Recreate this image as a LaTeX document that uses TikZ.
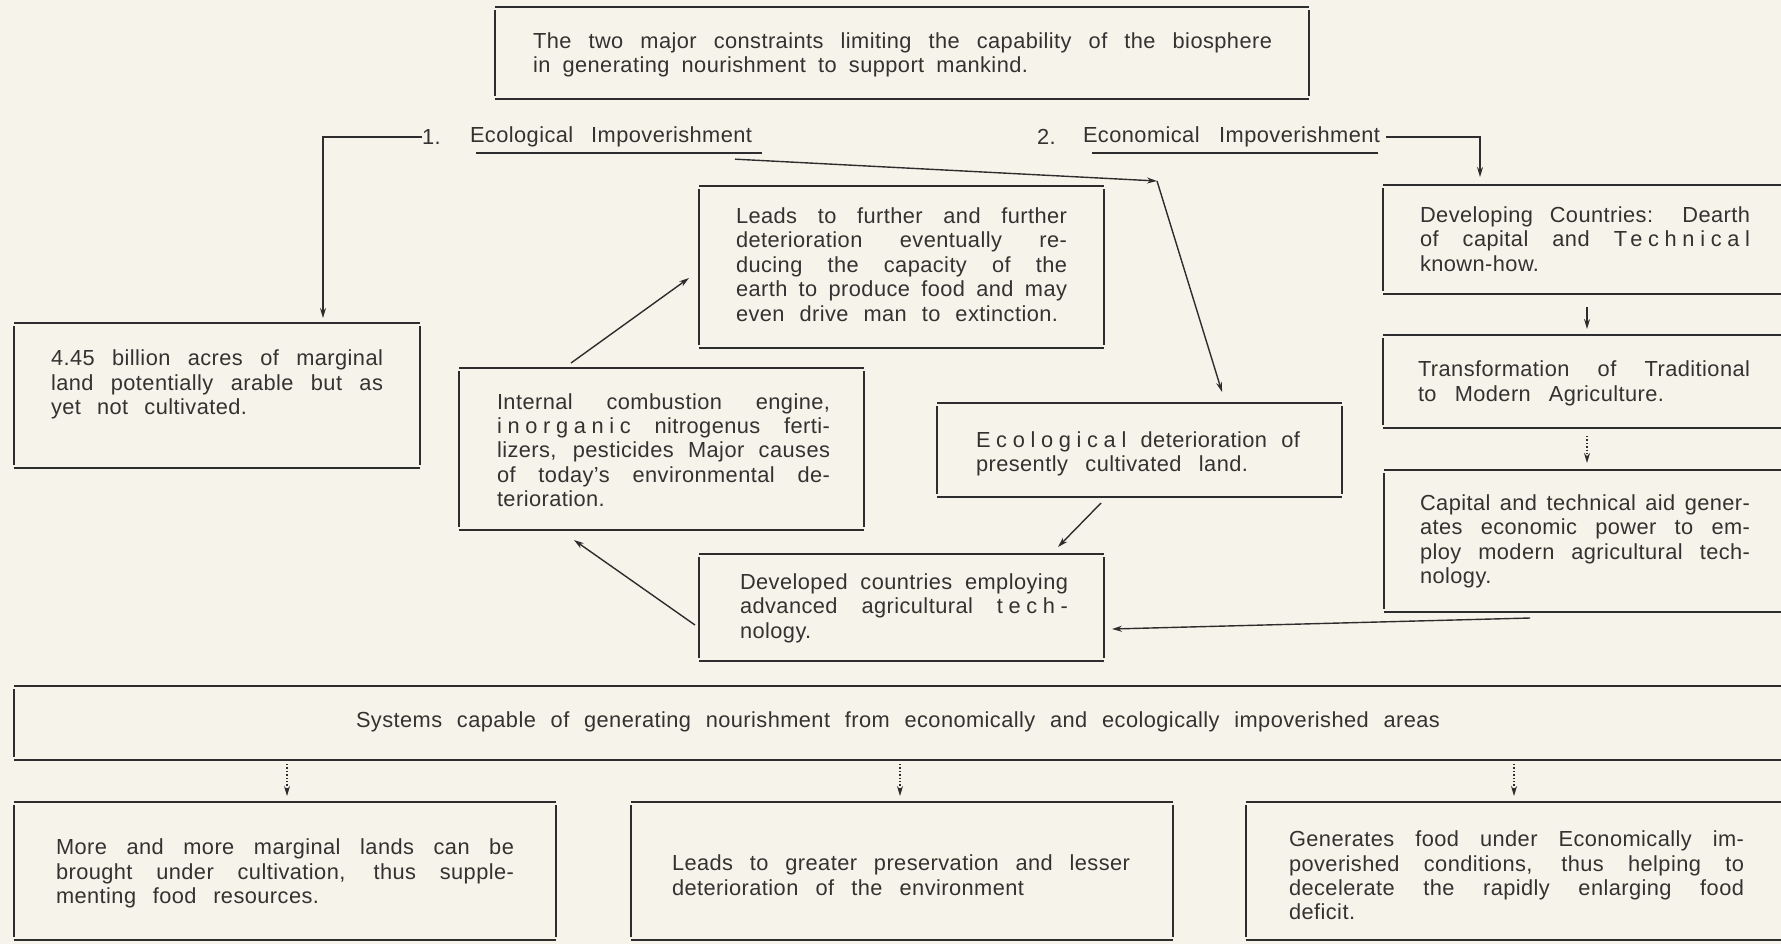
\documentclass[tikz,border=0pt]{standalone}
\usepackage{fontspec}
\setmainfont[LetterSpace=2]{Liberation Sans}
\usetikzlibrary{arrows.meta,calc,fit}
\definecolor{paper}{RGB}{246,243,234}
\definecolor{ink}{RGB}{52,50,48}
\definecolor{rulec}{RGB}{45,45,45}
\newcommand\spc[1]{{\addfontfeature{LetterSpace=26}#1}}
\newcommand\jl[2]{\makebox[#1pt][s]{#2}}
\newcommand\boxit[1]{%
  \draw[hl] (#1.north west) -- (#1.north east);
  \draw[hl] (#1.south west) -- (#1.south east);
  \draw[vl] (#1.north west) -- (#1.south west);
  \draw[vl] (#1.north east) -- (#1.south east);}
\newcommand\boxopen[1]{%
  \draw[hl] (#1.north west) -- (#1.north east);
  \draw[hl] (#1.south west) -- (#1.south east);
  \draw[vl] (#1.north west) -- (#1.south west);}
\begin{document}
\begin{tikzpicture}[x=0.5pt,y=-0.5pt,
  frame/.style={inner sep=0pt, outer sep=0pt},
  txt/.style={inner sep=0pt, outer sep=0pt, anchor=west, align=left, text=ink,
    font=\fontsize{10.9}{12.2}\selectfont},
  hl/.style={draw=rulec, line width=1.1pt},
  vl/.style={draw=rulec, line width=0.7pt, shorten <=1.5pt, shorten >=1.5pt},
  uline/.style={draw=rulec, line width=0.7pt},
  conn/.style={draw=rulec, line width=0.7pt, -{Stealth[length=5pt,width=3pt]}},
  dconn/.style={conn, densely dotted},
]
\useasboundingbox (0,0) rectangle (1781,944);
\fill[paper] (0,0) rectangle (1781,944);

% frames
\node[frame, fit={(495,7) (1309,99)}] (top) {};
\node[frame, fit={(699,186) (1104,348)}] (leads) {};
\node[frame, fit={(14,323) (420,468)}] (land) {};
\node[frame, fit={(459,368) (864,530)}] (ice) {};
\node[frame, fit={(937,403) (1342,497)}] (ecodet) {};
\node[frame, fit={(699,554) (1104,661)}] (devd) {};
\node[frame, fit={(1383,185) (1790,294)}] (devg) {};
\node[frame, fit={(1383,335) (1790,428)}] (trans) {};
\node[frame, fit={(1384,470) (1790,612)}] (cap) {};
\node[frame, fit={(14,686) (1790,760)}] (sys) {};
\node[frame, fit={(14,802) (556,940)}] (b1) {};
\node[frame, fit={(631,802) (1173,940)}] (b2) {};
\node[frame, fit={(1246,802) (1790,940)}] (b3) {};

\boxit{top}\boxit{leads}\boxit{land}\boxit{ice}\boxit{ecodet}\boxit{devd}
\boxopen{devg}\boxopen{trans}\boxopen{cap}\boxopen{sys}
\boxit{b1}\boxit{b2}\boxopen{b3}

% texts
\node[txt] (ttop) at (533,55) {\jl{369.5}{The two major constraints limiting the capability of the biosphere}\\
  \jl{247.5}{in generating nourishment to support mankind.}};
\node[txt] (n1) at (422,137) {1.};
\node[txt] (eco) at (470,137) {\jl{141}{Ecological Impoverishment}};
\node[txt] (n2) at (1037,137) {2.};
\node[txt] (econ) at (1083,137) {\jl{148.5}{Economical Impoverishment}};
\draw[uline] ($(eco.south west)+(6,6)$) -- ($(eco.south east)+(10,6)$);
\draw[uline] ($(econ.south west)+(9,6)$) -- ($(econ.south east)+(-2,6)$);

\node[txt] (tleads) at (736,264.5) {\jl{165.5}{Leads to further and further}\\
  \jl{165.5}{deterioration eventually re-}\\
  \jl{165.5}{ducing the capacity of the}\\
  \jl{165.5}{earth to produce food and may}\\
  \jl{161}{even drive man to extinction.}};
\node[txt] (tland) at (51,384.5) {\jl{166}{4.45 billion acres of marginal}\\
  \jl{166}{land potentially arable but as}\\
  \jl{98}{yet not cultivated.}};
\node[txt] (tice) at (497,450) {\jl{166.5}{Internal combustion engine,}\\
  \jl{166.5}{\spc{inorganic} nitrogenus ferti-}\\
  \jl{166.5}{lizers, pesticides Major causes}\\
  \jl{166.5}{of today’s environmental de-}\\
  terioration.};
\node[txt] (tecodet) at (976,454) {\jl{162}{\spc{Ecological} deterioration of}\\
  \jl{136}{presently cultivated land.}};
\node[txt] (tdevd) at (740,608) {\jl{164}{Developed countries employing}\\
  \jl{164}{advanced agricultural \spc{tech-}}\\
  nology.};
\node[txt] (tdevg) at (1420,239) {\jl{165}{Developing Countries: Dearth}\\
  \jl{165}{of capital and \spc{Technical}}\\
  known-how.};
\node[txt] (ttrans) at (1418,383.5) {\jl{166}{Transformation of Traditional}\\
  \jl{123}{to Modern Agriculture.}};
\node[txt] (tcap) at (1420,541.5) {\jl{165}{Capital and technical aid gener-}\\
  \jl{165}{ates economic power to em-}\\
  \jl{165}{ploy modern agricultural tech-}\\
  nology.};
\node[txt] (tsys) at (356,722) {\jl{542}{Systems capable of generating nourishment from economically and ecologically impoverished areas}};
\node[txt] (tb1) at (56,873.5) {\jl{229}{More and more marginal lands can be}\\
  \jl{229}{brought under cultivation, thus supple-}\\
  \jl{131.5}{menting food resources.}};
\node[txt] (tb2) at (672,875) {\jl{229}{Leads to greater preservation and lesser}\\
  \jl{176}{deterioration of the environment}};
\node[txt] (tb3) at (1289,875.5) {\jl{227.5}{Generates food under Economically im-}\\
  \jl{227.5}{poverished conditions, thus helping to}\\
  \jl{227.5}{decelerate the rapidly enlarging food}\\
  deficit.};

% connectors
\coordinate (knee) at (1157,181);
\draw[conn] (n1.west) -| ($(land.north west)+(309,-5)$);
\draw[conn] ([xshift=3pt]econ.east) -| ($(devg.north west)+(97,-8)$);
\draw[conn] ($(eco.south east)+(-17,12)$) -- (knee);
\draw[conn] (knee) -- ($(ecodet.north west)+(285,-11)$);
\draw[conn] ($(ice.north west)+(112,-5)$) -- ($(leads.south west)+(-10,-70)$);
\draw[conn] ($(devd.north west)+(-4,71)$) -- ($(ice.south west)+(115,10)$);
\draw[conn] ($(ecodet.south west)+(164,6)$) -- ($(devd.north west)+(359,-7)$);
\draw[conn] ($(cap.south west)+(146,6)$) -- ($(devd.north east)+(8,75)$);
\draw[conn] ($(devg.south west)+(204,13)$) -- ($(trans.north west)+(204,-6)$);
\draw[dconn] ($(trans.south west)+(204,8)$) -- ($(cap.north west)+(203,-7)$);
\draw[dconn] ($(sys.south west)+(273,4)$) -- ($(b1.north west)+(273,-6)$);
\draw[dconn] ($(sys.south west)+(886,4)$) -- ($(b2.north west)+(269,-6)$);
\draw[dconn] ($(sys.south west)+(1500,4)$) -- ($(b3.north west)+(268,-6)$);
\end{tikzpicture}
\end{document}
